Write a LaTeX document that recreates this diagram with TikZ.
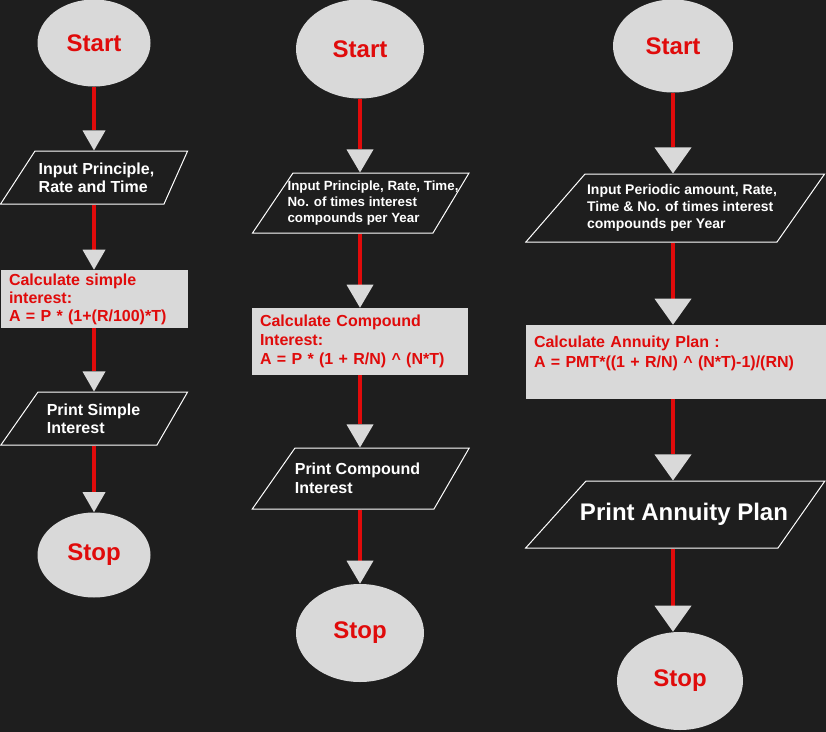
\documentclass[tikz,border=0pt]{standalone}
\usepackage{fontspec}
\setmainfont{Liberation Sans}
\usetikzlibrary{shapes.geometric, arrows.meta}

\definecolor{bgdark}{HTML}{1E1E1E}
\definecolor{boxgrey}{HTML}{D9D9D9}
\definecolor{flowred}{HTML}{E00B0B}

\begin{document}
\begin{tikzpicture}[x=0.75pt, y=-0.75pt,
    terminal/.style={ellipse, fill=boxgrey, text=flowred, inner sep=0pt,
        font=\bfseries\fontsize{18}{22}\selectfont},
    io/.style={trapezium, draw=white, line width=0.75pt, fill=bgdark,
        inner sep=0pt, text depth=0pt},
    iotext/.style={text=white, align=left, inner sep=0pt},
    calc/.style={rectangle, fill=boxgrey, text=flowred, align=left,
        inner xsep=6pt, inner ysep=0pt},
    flow/.style 2 args={draw=flowred, line width=3.5pt,
        -{Triangle[width=#1, length=#2, line width=0pt, color=boxgrey]}}
]

\useasboundingbox (0,0) rectangle (826,732);
\fill[bgdark] (0,0) rectangle (826,732);

% Nodes: simple interest
\node (start1) [terminal, minimum width=84.75pt, minimum height=65.25pt] at (94,43) {Start};
\node (input1) [io, trapezium left angle=57, trapezium right angle=114,
    text width=96.75pt, text height=39.75pt,
    label={[iotext, xshift=-2.25pt, font=\bfseries\fontsize{12}{13.5}\selectfont]center:Input Principle,\\Rate and Time}]
    at (99.5,177.5) {};
\node (calc1) [calc, text width=128.25pt, minimum height=43.5pt,
    font=\bfseries\fontsize{12}{13.5}\selectfont] at (94.5,299)
    {Calculate simple\\interest:\\A = P * (1+(R/100)*T)};
\node (print1) [io, trapezium left angle=55, trapezium right angle=120,
    text width=89.25pt, text height=39.75pt,
    label={[iotext, xshift=-3pt, font=\bfseries\fontsize{12}{13.5}\selectfont]center:Print Simple\\Interest}]
    at (97.5,418.5) {};
\node (stop1) [terminal, minimum width=84.75pt, minimum height=63.75pt] at (94,555) {Stop};

% Nodes: compound interest
\node (start2) [terminal, minimum width=96pt, minimum height=74.25pt] at (360,49) {Start};
\node (input2) [io, trapezium left angle=56, trapezium right angle=121,
    text width=105pt, text height=45pt,
    label={[iotext, xshift=7.5pt, font=\bfseries\fontsize{10}{12}\selectfont]center:Input Principle, Rate, Time,\\No. of times interest\\compounds per Year}]
    at (363,203) {};
\node (calc2) [calc, text width=150pt, minimum height=50.25pt,
    font=\bfseries\fontsize{12}{14}\selectfont] at (360,341.5)
    {Calculate Compound\\Interest:\\A = P * (1 + R/N) \textasciicircum{} (N*T)};
\node (print2) [io, trapezium left angle=55, trapezium right angle=120,
    text width=104.25pt, text height=45.75pt,
    label={[iotext, xshift=-5.25pt, font=\bfseries\fontsize{12}{14.25}\selectfont]center:Print Compound\\Interest}]
    at (364.5,478.5) {};
\node (stop2) [terminal, minimum width=96pt, minimum height=73.5pt] at (360,633) {Stop};

% Nodes: annuity plan
\node (start3) [terminal, minimum width=90pt, minimum height=69.75pt] at (673,46) {Start};
\node (input3) [io, trapezium left angle=49, trapezium right angle=125,
    text width=144pt, text height=51pt,
    label={[iotext, xshift=0.75pt, font=\bfseries\fontsize{10.5}{12.75}\selectfont]center:Input Periodic amount, Rate,\\Time \& No. of times interest\\compounds per Year}]
    at (681,208) {};
\node (calc3) [calc, text width=213pt, minimum height=55.5pt,
    font=\bfseries\fontsize{12}{15}\selectfont] at (676,362)
    {Calculate Annuity Plan :\\A = PMT*((1 + R/N) \textasciicircum{} (N*T)-1)/(RN)\\\mbox{}};
\node (print3) [io, trapezium left angle=48, trapezium right angle=125,
    text width=144pt, text height=50.25pt,
    label={[iotext, xshift=1.5pt, font=\bfseries\fontsize{18}{22}\selectfont]center:Print Annuity Plan}]
    at (682,514.5) {};
\node (stop3) [terminal, minimum width=94.5pt, minimum height=73.5pt] at (680,681) {Stop};

% Arrows
\draw[flow={17.25pt}{15pt}] (start1) -- (start1 |- input1.north);
\draw[flow={17.25pt}{15pt}] (input1.south -| start1) -- (start1 |- calc1.north);
\draw[flow={17.25pt}{15pt}] (calc1.south -| start1) -- (start1 |- print1.north);
\draw[flow={17.25pt}{15pt}] (print1.south -| start1) -- (stop1);

\draw[flow={20.25pt}{17.25pt}] (start2) -- (start2 |- input2.north);
\draw[flow={20.25pt}{17.25pt}] (input2.south -| start2) -- (start2 |- calc2.north);
\draw[flow={20.25pt}{17.25pt}] (calc2.south -| start2) -- (start2 |- print2.north);
\draw[flow={20.25pt}{17.25pt}] (print2.south -| start2) -- (stop2);

\draw[flow={27.75pt}{19.5pt}] (start3) -- (start3 |- input3.north);
\draw[flow={27.75pt}{19.5pt}] (input3.south -| start3) -- (start3 |- calc3.north);
\draw[flow={27.75pt}{19.5pt}] (calc3.south -| start3) -- (start3 |- print3.north);
\draw[flow={27.75pt}{19.5pt}] (print3.south -| start3) -- (start3 |- stop3.north);

\end{tikzpicture}
\end{document}
